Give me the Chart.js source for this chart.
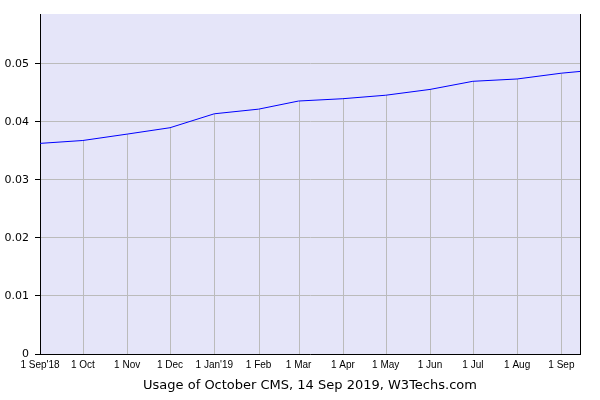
<!DOCTYPE html>
<html>
<head>
<meta charset="utf-8">
<script src="https://cdn.jsdelivr.net/npm/chart.js@4/dist/chart.umd.min.js"></script>
<style>
  html, body { margin: 0; padding: 0; background: #fff; }
  #wrap { width: 600px; height: 400px; }
</style>
</head>
<body>
<div id="wrap"><canvas id="chart" width="600" height="400"></canvas></div>
<script>
// usage share (fraction of all websites) per date
var pointDates = ['2018-09-01', '2018-10-01', '2018-11-01', '2018-12-01', '2019-01-01', '2019-02-01',
    '2019-03-01', '2019-04-01', '2019-05-01', '2019-06-01', '2019-07-01', '2019-08-01',
    '2019-09-01', '2019-09-14'];
var usage = [0.0363, 0.0368, 0.0379, 0.0390, 0.0414, 0.0422, 0.0436, 0.0440, 0.0446, 0.0456,
    0.0470, 0.0474, 0.0484, 0.0487];

var tickDates = ['2018-09-01', '2018-10-01', '2018-11-01', '2018-12-01', '2019-01-01', '2019-02-01',
    '2019-03-01', '2019-04-01', '2019-05-01', '2019-06-01', '2019-07-01', '2019-08-01', '2019-09-01'];
var tickLabels = ["1 Sep'18", '1 Oct', '1 Nov', '1 Dec', "1 Jan'19", '1 Feb', '1 Mar', '1 Apr',
    '1 May', '1 Jun', '1 Jul', '1 Aug', '1 Sep'];

var startDate = '2018-09-01';
var endDate = '2019-09-14';
var yMax = 0.0586;

function dayNum(s) {
    var p = s.split('-');
    return (Date.UTC(+p[0], +p[1] - 1, +p[2]) - Date.UTC(2018, 8, 1)) / 86400000;
}

var points = pointDates.map(function (d, i) {
    return { x: dayNum(d), y: usage[i] };
});
var tickDays = tickDates.map(dayNum);

var canvas = document.getElementById('chart');
var ctx = canvas.getContext('2d');
var myChart = new Chart(ctx, {
    type: 'line',
    data: {
        datasets: [{
            data: points,
            borderColor: '#0000ff',
            borderWidth: 1,
            pointRadius: 0,
            tension: 0,
            fill: false,
            yAxisID: 'y'
        }]
    },
    plugins: [{
        id: 'plotBg',
        beforeDraw: function (chart) {
            var a = chart.chartArea;
            chart.ctx.save();
            chart.ctx.fillStyle = '#e5e5f9';
            chart.ctx.fillRect(a.left, a.top, a.right - a.left, a.bottom - a.top);
            chart.ctx.restore();
        }
    }, {
        // month grid lines only run from the axis up to the usage line
        id: 'monthLines',
        beforeDatasetsDraw: function (chart) {
            var xs = chart.scales.x, ys = chart.scales.y, c = chart.ctx;
            c.save();
            c.strokeStyle = '#bbbbbb';
            c.lineWidth = 1;
            tickDays.forEach(function (d, i) {
                if (i === 0) return;
                var k = pointDates.indexOf(tickDates[i]);
                var px = Math.round(xs.getPixelForValue(d)) + 0.5;
                c.beginPath();
                c.moveTo(px, ys.getPixelForValue(usage[k]));
                c.lineTo(px, ys.bottom);
                c.stroke();
            });
            c.restore();
        }
    }],
    options: {
        responsive: false,
        animation: false,
        layout: { padding: { top: 14, left: 0, right: 0, bottom: 0 } },
        plugins: {
            legend: { display: false },
            tooltip: { enabled: false }
        },
        scales: {
            x: {
                type: 'linear',
                min: dayNum(startDate),
                max: dayNum(endDate),
                afterBuildTicks: function (scale) {
                    scale.ticks = tickDays.map(function (v) { return { value: v }; });
                },
                afterFit: function (scale) { scale.height = 46; },
                ticks: {
                    autoSkip: false,
                    maxRotation: 0,
                    padding: 5,
                    color: '#000',
                    font: { family: 'Liberation Sans', size: 10 },
                    callback: function (v) {
                        var i = tickDays.indexOf(v);
                        return i >= 0 ? tickLabels[i] : '';
                    }
                },
                grid: { display: false, drawTicks: false },
                border: { color: '#000', width: 1 },
                title: {
                    display: true,
                    text: 'Usage of October CMS, 14 Sep 2019, W3Techs.com',
                    color: '#000',
                    font: { family: 'DejaVu Sans', size: 13 },
                    padding: { top: 4, bottom: 7 }
                }
            },
            y: {
                min: 0,
                max: yMax,
                afterBuildTicks: function (scale) {
                    scale.ticks = scale.ticks.filter(function (t) { return t.value <= 0.0500001; });
                },
                afterFit: function (scale) { scale.width = 40; },
                ticks: {
                    stepSize: 0.01,
                    padding: 6,
                    color: '#000',
                    font: { family: 'DejaVu Sans', size: 11 },
                    callback: function (v) { return v === 0 ? '0' : v.toFixed(2); }
                },
                grid: { color: '#bbbbbb', tickColor: '#000', tickLength: 5 },
                border: { color: '#000', width: 1 }
            },
            yRight: {
                position: 'right',
                min: 0,
                max: yMax,
                afterFit: function (scale) { scale.width = 20; },
                ticks: { display: false },
                grid: { display: false, drawTicks: false },
                border: { display: true, color: '#000', width: 1 }
            }
        }
    }
});
</script>
</body>
</html>
